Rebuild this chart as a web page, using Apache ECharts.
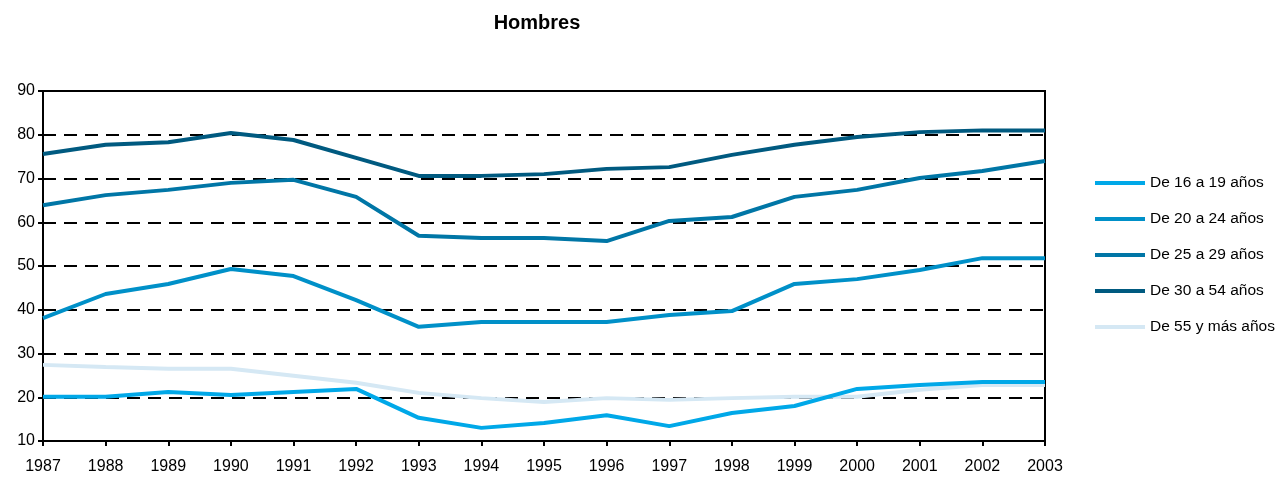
<!DOCTYPE html>
<html><head><meta charset="utf-8">
<script src="https://cdn.jsdelivr.net/npm/echarts@6/dist/echarts.min.js"></script>
<style>html,body{margin:0;padding:0;background:#fff}#c{width:1284px;height:478px}</style>
</head><body><div id="c"></div>
<script>
const years = ['1987','1988','1989','1990','1991','1992','1993','1994','1995','1996','1997','1998','1999','2000','2001','2002','2003'];
const names = ['De 16 a 19 años','De 20 a 24 años','De 25 a 29 años','De 30 a 54 años','De 55 y más años'];
const s16_19 = [20.1,20.1,21.2,20.5,21.2,21.9,15.3,13.0,14.1,15.9,13.4,16.4,18.0,21.9,22.8,23.5,23.5];
const s20_24 = [38.1,43.6,45.9,49.3,47.7,42.2,36.1,37.2,37.2,37.2,38.8,39.7,45.9,47.0,49.1,51.8,51.8];
const s25_29 = [63.9,66.2,67.4,69.0,69.7,65.8,56.9,56.4,56.4,55.7,60.3,61.2,65.8,67.4,70.1,71.7,74.0];
const s30_54 = [75.6,77.7,78.3,80.4,78.8,74.7,70.6,70.6,71.0,72.2,72.6,75.4,77.7,79.5,80.6,81.0,81.0];
const s55 = [27.4,26.9,26.5,26.5,24.9,23.3,21.0,19.8,18.9,19.8,19.4,19.8,20.1,20.1,21.7,22.8,22.8];
const colors = ['#00a8e8','#0090c8','#0076a6','#005a80','#d5e8f4'];
const data = [s16_19,s20_24,s25_29,s30_54,s55];
const font = '"Liberation Sans Narrow","Arial Narrow","Liberation Sans",Arial,sans-serif';
const chart = echarts.init(document.getElementById('c'));
chart.setOption({
  animation:false,
  textStyle:{fontFamily:font},
  title:{text:'Hombres',left:532,top:8,textAlign:'center',textStyle:{fontFamily:font,fontSize:20,fontWeight:'bold',color:'#000'}},
  legend:{orient:'vertical',left:1090,top:170,itemWidth:50,itemHeight:4,itemGap:20,
    icon:'rect',textStyle:{fontFamily:font,fontSize:15.5,color:'#000'},data:names},
  grid:{left:43,right:239,top:91,bottom:37,show:true,borderColor:'#000',borderWidth:2},
  xAxis:{type:'category',data:years,boundaryGap:false,
    axisLine:{lineStyle:{color:'#000',width:2}},
    axisTick:{show:true,length:5,lineStyle:{color:'#000',width:2}},
    axisLabel:{color:'#000',fontSize:16,fontFamily:font,margin:18}},
  yAxis:{type:'value',min:10,max:90,interval:10,
    axisLine:{show:true,lineStyle:{color:'#000',width:2}},
    axisTick:{show:true,length:5,lineStyle:{color:'#000',width:2}},
    axisLabel:{color:'#000',fontSize:16,fontFamily:font,margin:8},
    splitLine:{show:true,lineStyle:{color:'#000',width:2,type:[13,8]}}},
  series:names.map((n,i)=>({name:n,type:'line',data:data[i],symbol:'none',
    lineStyle:{color:colors[i],width:4},itemStyle:{color:colors[i]},z:i===4?1:2}))
});
</script></body></html>
